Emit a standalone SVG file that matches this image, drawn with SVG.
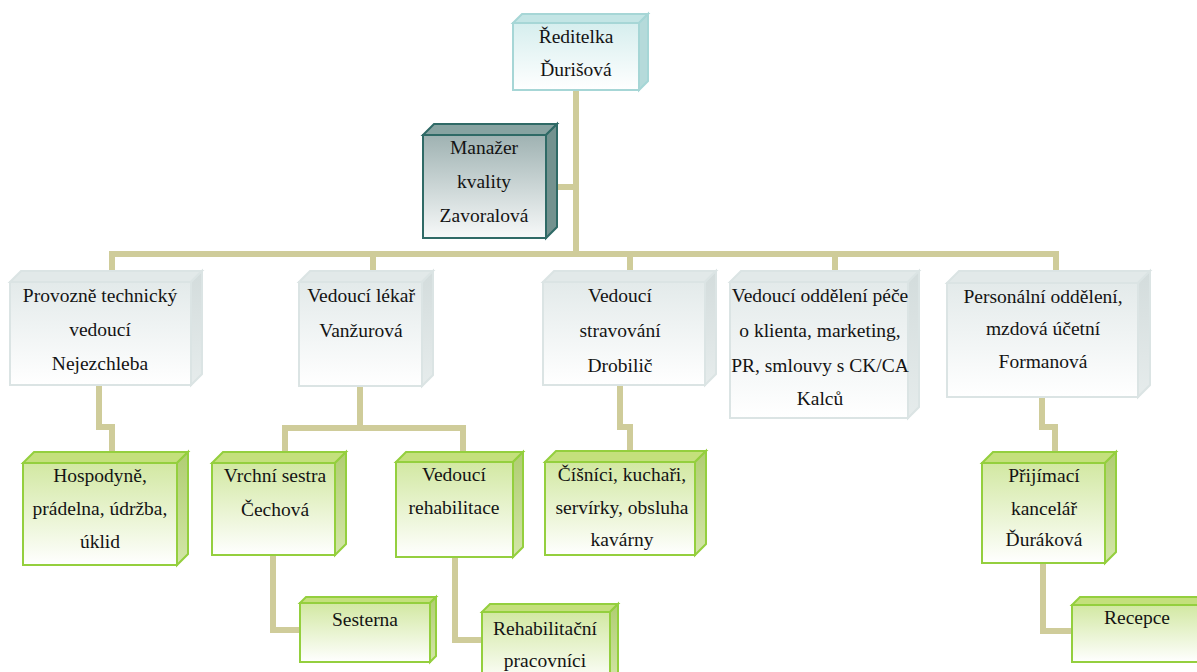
<svg xmlns="http://www.w3.org/2000/svg" width="1197" height="672" viewBox="0 0 1197 672">
<defs>
<linearGradient id="gTop" x1="0" y1="0" x2="0" y2="1"><stop offset="0" stop-color="#d6eeee"/><stop offset="1" stop-color="#ffffff"/></linearGradient>
<linearGradient id="gGrey" x1="0" y1="0" x2="0" y2="1"><stop offset="0" stop-color="#e3eaea"/><stop offset="1" stop-color="#ffffff"/></linearGradient>
<linearGradient id="gMgr" x1="0" y1="0" x2="0" y2="1"><stop offset="0" stop-color="#9fb2b2"/><stop offset="1" stop-color="#f7f9f9"/></linearGradient>
<linearGradient id="gGreen" x1="0" y1="0" x2="0" y2="1"><stop offset="0" stop-color="#d2e8a2"/><stop offset="1" stop-color="#ffffff"/></linearGradient>
<linearGradient id="gGreenSide" x1="0" y1="0" x2="0" y2="1"><stop offset="0" stop-color="#b0cd72"/><stop offset="1" stop-color="#d3e6a8"/></linearGradient>
<linearGradient id="gGreySide" x1="0" y1="0" x2="0" y2="1"><stop offset="0" stop-color="#d3dcdc"/><stop offset="1" stop-color="#e6ecec"/></linearGradient>
</defs>
<style>
text{font-size:19.5px;fill:#141414;text-anchor:middle}
.con{fill:none;stroke:#cfcc9a;stroke-width:6;stroke-linejoin:miter}
.t .f{fill:url(#gTop);stroke:#a6d6d6;stroke-width:2}
.t .u{fill:#c3e5e5;stroke:#a6d6d6;stroke-width:2}
.t .s{fill:#b5dada;stroke:#a6d6d6;stroke-width:2}
.g .f{fill:url(#gGrey);stroke:#dbe4e4;stroke-width:2}
.g .u{fill:#e2e9e9;stroke:#dbe4e4;stroke-width:2}
.g .s{fill:url(#gGreySide);stroke:#dbe4e4;stroke-width:2}
.m .f{fill:url(#gMgr);stroke:#2f6a66;stroke-width:2}
.m .u{fill:#87a3a1;stroke:#2f6a66;stroke-width:2}
.m .s{fill:#73928f;stroke:#2f6a66;stroke-width:2}
.n .f{fill:url(#gGreen);stroke:#94cf3e;stroke-width:2}
.n .u{fill:#c4e07c;stroke:#94cf3e;stroke-width:2}
.n .s{fill:url(#gGreenSide);stroke:#94cf3e;stroke-width:2}
</style>
<rect width="1197" height="672" fill="#ffffff"/>
<g id="connectors">
<polyline class="con" points="576,90 576,254"/>
<polyline class="con" points="557,187 576,187"/>
<polyline class="con" points="112,271 112,254 1056,254 1056,271"/>
<polyline class="con" points="373,254 373,271"/>
<polyline class="con" points="630,254 630,271"/>
<polyline class="con" points="835,254 835,271"/>
<polyline class="con" points="99,386 99,427 112,427 112,452"/>
<polyline class="con" points="360,387 360,428"/>
<polyline class="con" points="285,452 285,428 463,428 463,452"/>
<polyline class="con" points="620,386 620,427 630,427 630,451"/>
<polyline class="con" points="1042,398 1042,427 1055,427 1055,452"/>
<polyline class="con" points="273,556 273,630 300,630"/>
<polyline class="con" points="455,558 455,640 482,640"/>
<polyline class="con" points="1043,564 1043,631 1072,631"/>
</g>
<g font-family="Liberation Serif, Times New Roman, serif">
<g id="n-reditelka" class="t">
<polygon class="u" points="513,23 522,14 648,14 639,23"/>
<polygon class="s" points="639,23 648,14 648,81 639,90"/>
<rect class="f" x="513" y="23" width="126" height="67"/>
<text x="576" y="43">Ředitelka</text>
<text x="576" y="76">Ďurišová</text>
</g>
<g id="n-manazer" class="m">
<polygon class="u" points="423,135 434,124 557,124 546,135"/>
<polygon class="s" points="546,135 557,124 557,227 546,238"/>
<rect class="f" x="423" y="135" width="123" height="103"/>
<text x="484" y="154">Manažer</text>
<text x="484" y="188">kvality</text>
<text x="484" y="222">Zavoralová</text>
</g>
<g id="n-provozne" class="g">
<polygon class="u" points="10,282 21,271 202,271 191,282"/>
<polygon class="s" points="191,282 202,271 202,374 191,385"/>
<rect class="f" x="10" y="282" width="181" height="103"/>
<text x="100" y="302">Provozně technický</text>
<text x="100" y="336">vedoucí</text>
<text x="100" y="370">Nejezchleba</text>
</g>
<g id="n-lekar" class="g">
<polygon class="u" points="299,282 310,271 433,271 422,282"/>
<polygon class="s" points="422,282 433,271 433,375 422,386"/>
<rect class="f" x="299" y="282" width="123" height="104"/>
<text x="361" y="302">Vedoucí lékař</text>
<text x="361" y="337">Vanžurová</text>
</g>
<g id="n-stravovani" class="g">
<polygon class="u" points="543,282 554,271 716,271 705,282"/>
<polygon class="s" points="705,282 716,271 716,374 705,385"/>
<rect class="f" x="543" y="282" width="162" height="103"/>
<text x="620" y="302">Vedoucí</text>
<text x="620" y="337">stravování</text>
<text x="620" y="372">Drobilič</text>
</g>
<g id="n-pece" class="g">
<polygon class="u" points="730,282 741,271 919,271 908,282"/>
<polygon class="s" points="908,282 919,271 919,407 908,418"/>
<rect class="f" x="730" y="282" width="178" height="136"/>
<text x="820" y="302">Vedoucí oddělení péče</text>
<text x="820" y="337">o klienta, marketing,</text>
<text x="820" y="372">PR, smlouvy s CK/CA</text>
<text x="820" y="405">Kalců</text>
</g>
<g id="n-personalni" class="g">
<polygon class="u" points="947,283 959,271 1150,271 1138,283"/>
<polygon class="s" points="1138,283 1150,271 1150,385 1138,397"/>
<rect class="f" x="947" y="283" width="191" height="114"/>
<text x="1043" y="303">Personální oddělení,</text>
<text x="1043" y="335">mzdová účetní</text>
<text x="1043" y="368">Formanová</text>
</g>
<g id="n-hospodyne" class="n">
<polygon class="u" points="23,463 34,452 188,452 177,463"/>
<polygon class="s" points="177,463 188,452 188,554 177,565"/>
<rect class="f" x="23" y="463" width="154" height="102"/>
<text x="100" y="482">Hospodyně,</text>
<text x="100" y="515">prádelna, údržba,</text>
<text x="100" y="548">úklid</text>
</g>
<g id="n-vrchni" class="n">
<polygon class="u" points="212,463 223,452 346,452 335,463"/>
<polygon class="s" points="335,463 346,452 346,544 335,555"/>
<rect class="f" x="212" y="463" width="123" height="92"/>
<text x="275" y="482">Vrchní sestra</text>
<text x="275" y="516">Čechová</text>
</g>
<g id="n-rehab" class="n">
<polygon class="u" points="396,462 406,452 523,452 513,462"/>
<polygon class="s" points="513,462 523,452 523,547 513,557"/>
<rect class="f" x="396" y="462" width="117" height="95"/>
<text x="454" y="481">Vedoucí</text>
<text x="454" y="514">rehabilitace</text>
</g>
<g id="n-cisnici" class="n">
<polygon class="u" points="545,462 556,451 706,451 695,462"/>
<polygon class="s" points="695,462 706,451 706,544 695,555"/>
<rect class="f" x="545" y="462" width="150" height="93"/>
<text x="622" y="481">Číšníci, kuchaři,</text>
<text x="622" y="514">servírky, obsluha</text>
<text x="622" y="546">kavárny</text>
</g>
<g id="n-prijimaci" class="n">
<polygon class="u" points="982,463 993,452 1116,452 1105,463"/>
<polygon class="s" points="1105,463 1116,452 1116,552 1105,563"/>
<rect class="f" x="982" y="463" width="123" height="100"/>
<text x="1044" y="482">Přijímací</text>
<text x="1044" y="515">kancelář</text>
<text x="1044" y="546">Ďuráková</text>
</g>
<g id="n-sesterna" class="n">
<polygon class="u" points="300,603 306,597 436,597 430,603"/>
<polygon class="s" points="430,603 436,597 436,656 430,662"/>
<rect class="f" x="300" y="603" width="130" height="59"/>
<text x="365" y="626">Sesterna</text>
</g>
<g id="n-rehabprac" class="n">
<polygon class="u" points="482,612 490,604 618,604 610,612"/>
<polygon class="s" points="610,612 618,604 618,676 610,684"/>
<rect class="f" x="482" y="612" width="128" height="72"/>
<text x="545" y="635">Rehabilitační</text>
<text x="545" y="667">pracovníci</text>
</g>
<g id="n-recepce" class="n">
<polygon class="u" points="1072,605 1080,597 1210,597 1202,605"/>
<rect class="f" x="1072" y="605" width="130" height="57"/>
<text x="1137" y="624">Recepce</text>
</g>
</g>
</svg>
